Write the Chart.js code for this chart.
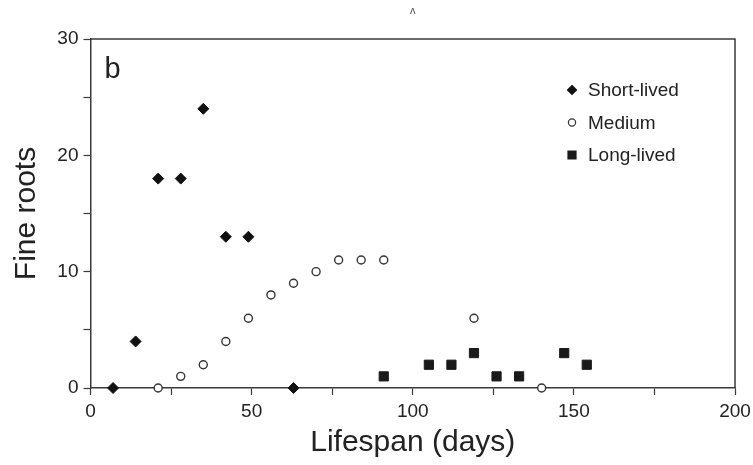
<!DOCTYPE html>
<html>
<head>
<meta charset="utf-8">
<script src="https://cdn.jsdelivr.net/npm/chart.js@4/dist/chart.umd.min.js"></script>
<style>
  html, body { margin: 0; padding: 0; background: #fff; }
  #wrap { width: 753px; height: 465px; position: relative; }
</style>
</head>
<body>
<div id="wrap"><canvas id="c" width="753" height="465"></canvas></div>
<script>
// Data (lifespan in days, number of fine roots)
const shortX = [7, 14, 21, 28, 35, 42, 49, 63];
const shortY = [0, 4, 18, 18, 24, 13, 13, 0];
const mediumX = [21, 28, 35, 42, 49, 56, 63, 70, 77, 84, 91, 119, 140];
const mediumY = [0, 1, 2, 4, 6, 8, 9, 10, 11, 11, 11, 6, 0];
const longX = [91, 105, 112, 119, 126, 133, 147, 154];
const longY = [1, 2, 2, 3, 1, 1, 3, 2];
const seriesNames = ['Short-lived', 'Medium', 'Long-lived'];
const xLabelTicks = [0, 50, 100, 150, 200];
const yLabelTicks = [0, 10, 20, 30];
const panelLetter = 'b';
const xTitle = 'Lifespan (days)';
const yTitle = 'Fine roots';

const pts = (xs, ys) => xs.map((x, i) => ({ x: x, y: ys[i] }));
const FONT = '"Liberation Sans", Arial, Helvetica, sans-serif';
const AXIS = '#3a3a3a';
const TEXT = '#222';

const frameAndLegend = {
  id: 'frameAndLegend',
  afterDatasetsDraw(chart) {
    const { ctx, chartArea: a } = chart;
    ctx.save();
    // top and right frame lines
    ctx.strokeStyle = AXIS;
    ctx.lineWidth = 1.5;
    ctx.beginPath();
    ctx.moveTo(a.left, a.top);
    ctx.lineTo(a.right, a.top);
    ctx.lineTo(a.right, a.bottom);
    ctx.stroke();
    // panel letter
    ctx.fillStyle = TEXT;
    ctx.font = '29px ' + FONT;
    ctx.textBaseline = 'alphabetic';
    ctx.textAlign = 'left';
    ctx.fillText(panelLetter, a.left + 14, a.top + 39);
    // small clipped glyph at top
    ctx.font = '11px ' + FONT;
    ctx.fillStyle = '#555';
    ctx.fillText('\u028C', 410, 14);
    // legend
    const mx = 572, tx = 588, rows = [90, 122.5, 155];
    ctx.font = '19px ' + FONT;
    ctx.textBaseline = 'middle';
    chart.data.datasets.forEach((ds, i) => {
      const y = rows[i];
      ctx.lineWidth = 1.2;
      ctx.strokeStyle = ds.borderColor;
      ctx.fillStyle = ds.backgroundColor;
      ctx.beginPath();
      if (ds.pointStyle === 'rectRot') {
        const r = 4.5;
        ctx.moveTo(mx, y - r); ctx.lineTo(mx + r, y); ctx.lineTo(mx, y + r); ctx.lineTo(mx - r, y); ctx.closePath();
      } else if (ds.pointStyle === 'circle') {
        ctx.arc(mx, y, 3.6, 0, Math.PI * 2);
      } else {
        ctx.rect(mx - 4, y - 4, 8, 8);
      }
      ctx.fill();
      ctx.stroke();
      ctx.fillStyle = TEXT;
      ctx.fillText(ds.label, tx, y + 1);
    });
    ctx.restore();
  }
};

new Chart(document.getElementById('c'), {
  type: 'scatter',
  data: {
    datasets: [
      { label: seriesNames[0], data: pts(shortX, shortY), pointStyle: 'rectRot', pointRadius: 5.5,
        backgroundColor: '#111', borderColor: '#111', borderWidth: 1, clip: false },
      { label: seriesNames[1], data: pts(mediumX, mediumY), pointStyle: 'circle', pointRadius: 4,
        backgroundColor: '#fff', borderColor: '#333', borderWidth: 1.4, clip: false },
      { label: seriesNames[2], data: pts(longX, longY), pointStyle: 'rect', pointRadius: 6.5,
        backgroundColor: '#1a1a1a', borderColor: '#1a1a1a', borderWidth: 1, clip: false }
    ]
  },
  options: {
    responsive: false,
    animation: false,
    events: [],
    layout: { padding: { top: 39, right: 18, left: 0, bottom: 0 } },
    plugins: { legend: { display: false }, tooltip: { enabled: false } },
    scales: {
      x: {
        type: 'linear', min: 0, max: 200,
        afterFit(s) { s.height = 77; s.paddingLeft = 0; s.paddingRight = 0; },
        ticks: {
          stepSize: 25, padding: 5, color: TEXT, maxRotation: 0, autoSkip: false,
          font: { family: FONT, size: 19 },
          callback: (v) => xLabelTicks.includes(v) ? String(v) : ''
        },
        grid: { drawOnChartArea: false, drawTicks: true, tickLength: 7, color: AXIS, tickWidth: 1.2 },
        border: { display: true, color: AXIS, width: 1.5 },
        title: { display: true, text: xTitle, color: TEXT, font: { family: FONT, size: 30 }, padding: { top: 0, bottom: 4 } }
      },
      y: {
        type: 'linear', min: 0, max: 30,
        afterFit(s) { s.width = 90.5; s.paddingTop = 0; s.paddingBottom = 0; },
        ticks: {
          stepSize: 5, padding: 5, color: TEXT, autoSkip: false,
          font: { family: FONT, size: 19 },
          callback: (v) => yLabelTicks.includes(v) ? String(v) : ''
        },
        grid: { drawOnChartArea: false, drawTicks: true, tickLength: 7, color: AXIS, tickWidth: 1.2 },
        border: { display: true, color: AXIS, width: 1.5 },
        title: { display: true, text: yTitle, color: TEXT, font: { family: FONT, size: 30 }, padding: { top: 9, bottom: 0 } }
      }
    }
  },
  plugins: [frameAndLegend]
});
</script>
</body>
</html>
